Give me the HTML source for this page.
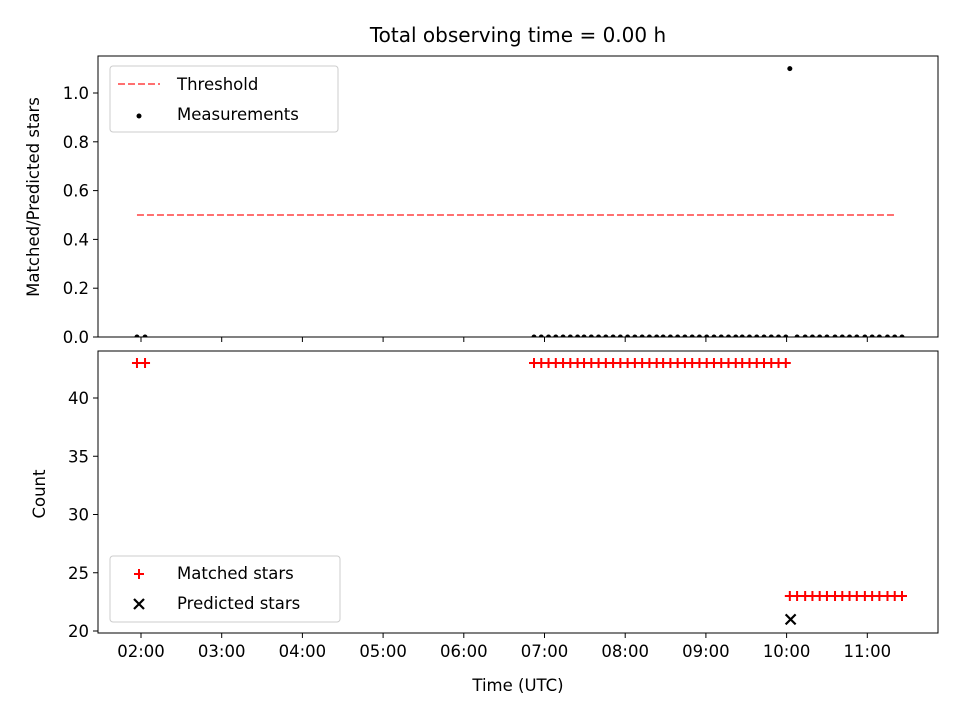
<!DOCTYPE html>
<html><head><meta charset="utf-8"><style>
body{margin:0;background:#fff;}
svg{display:block;font-family:"DejaVu Sans","Liberation Sans",sans-serif;}
</style></head><body>
<svg id="c" width="960" height="720" xmlns="http://www.w3.org/2000/svg"></svg>
<script>
const matchedTimes=[1.95,2.05,6.87,6.96,7.05,7.14,7.23,7.32,7.41,7.49,7.58,7.67,7.76,7.85,7.94,8.03,8.12,8.21,8.30,8.39,8.47,8.56,8.65,8.74,8.83,8.92,9.01,9.10,9.19,9.28,9.37,9.45,9.54,9.63,9.72,9.81,9.90,9.99,10.04,10.13,10.23,10.32,10.41,10.50,10.60,10.69,10.78,10.87,10.97,11.06,11.15,11.25,11.34,11.43];
const matchedCounts=[43,43,43,43,43,43,43,43,43,43,43,43,43,43,43,43,43,43,43,43,43,43,43,43,43,43,43,43,43,43,43,43,43,43,43,43,43,43,23,23,23,23,23,23,23,23,23,23,23,23,23,23,23,23];
const ratioValues=[0,0,0,0,0,0,0,0,0,0,0,0,0,0,0,0,0,0,0,0,0,0,0,0,0,0,0,0,0,0,0,0,0,0,0,0,0,0,1.1,0,0,0,0,0,0,0,0,0,0,0,0,0,0,0];
const predictedTimes=[10.05];
const predictedCounts=[21];
const threshold=0.5;
const thresholdRange=[1.95,11.34];
const xTicks=[2,3,4,5,6,7,8,9,10,11];
const xTickLabels=["02:00","03:00","04:00","05:00","06:00","07:00","08:00","09:00","10:00","11:00"];
const topTicks=[0,0.2,0.4,0.6,0.8,1.0];
const botTicks=[20,25,30,35,40];

const svg=document.getElementById('c');
const NS='http://www.w3.org/2000/svg';
function mk(t,a,txt){const e=document.createElementNS(NS,t);for(const k in a)e.setAttribute(k,a[k]);if(txt!==undefined)e.textContent=txt;svg.appendChild(e);return e;}
const L=98,R=938,FS='16.5px';
const X=h=>141+(h-2)*80.7;
const Yt=v=>337-v*244;
const Yb=v=>631-(v-20)*11.65;

let e=mk('text',{x:518,y:42,'text-anchor':'middle','font-size':'20px'},'Total observing time = 0.00 h');



e=mk('line',{x1:X(thresholdRange[0]),x2:X(thresholdRange[1]),y1:Yt(threshold),y2:Yt(threshold),stroke:'#ff7070','stroke-width':2,'stroke-dasharray':'7,3'});



ratioValues.forEach((v,i)=>{
  const p=mk('circle',{cx:X(matchedTimes[i]),cy:Yt(v),r:2.5,fill:'#000'});
  
  
});
matchedCounts.forEach((v,i)=>{
  const x=X(matchedTimes[i]),y=Yb(v);
  const p=mk('path',{d:`M${x-5},${y}H${x+5}M${x},${y-5}V${y+5}`,stroke:'#f00','stroke-width':2});
  
  
});
predictedCounts.forEach((v,i)=>{
  const x=X(predictedTimes[i]),y=Yb(v);
  const p=mk('path',{d:`M${x-5},${y-5}L${x+5},${y+5}M${x-5},${y+5}L${x+5},${y-5}`,stroke:'#000','stroke-width':2.2});
  
  
});

// white mask below top axis to clip dots
e=mk('rect',{x:L-1,y:337.5,width:R-L+2,height:13,fill:'#fff'});



e=mk('rect',{x:L,y:56,width:R-L,height:281,fill:'none',stroke:'#000','stroke-width':1});


e=mk('rect',{x:L,y:351,width:R-L,height:282,fill:'none',stroke:'#000','stroke-width':1});



xTicks.forEach((t,i)=>{
  const x=X(t);
  let k=mk('line',{x1:x,x2:x,y1:337,y2:342,stroke:'#000'});
  
  
  k=mk('line',{x1:x,x2:x,y1:633,y2:638,stroke:'#000'});
  
  
  k=mk('text',{x:x,y:657,'text-anchor':'middle','font-size':FS},xTickLabels[i]);
  
  
});
topTicks.forEach(t=>{
  const y=Yt(t);
  let k=mk('line',{x1:93,x2:98,y1:y,y2:y,stroke:'#000'});
  
  
  k=mk('text',{x:89,y:y+6,'text-anchor':'end','font-size':FS},t.toFixed(1));
  
  
});
botTicks.forEach(t=>{
  const y=Yb(t);
  let k=mk('line',{x1:93,x2:98,y1:y,y2:y,stroke:'#000'});
  
  
  k=mk('text',{x:89,y:y+6,'text-anchor':'end','font-size':FS},String(t));
  
  
});

e=mk('text',{x:518,y:691,'text-anchor':'middle','font-size':FS},'Time (UTC)');


e=mk('text',{x:39,y:197,'text-anchor':'middle','font-size':FS,transform:'rotate(-90 39 197)'},'Matched/Predicted stars');


e=mk('text',{x:45,y:494,'text-anchor':'middle','font-size':FS,transform:'rotate(-90 45 494)'},'Count');



e=mk('rect',{x:110,y:66,width:228,height:66,rx:3,fill:'#fff',stroke:'#ccc'});


e=mk('line',{x1:118,x2:160,y1:84,y2:84,stroke:'#ff7070','stroke-width':2,'stroke-dasharray':'7,3'});


e=mk('text',{x:177,y:90,'font-size':FS},'Threshold');


e=mk('circle',{cx:139,cy:116,r:2.5,fill:'#000'});


e=mk('text',{x:177,y:120,'font-size':FS},'Measurements');



e=mk('rect',{x:110,y:556,width:230,height:66,rx:3,fill:'#fff',stroke:'#ccc'});


e=mk('path',{d:'M134,574H144M139,569V579',stroke:'#f00','stroke-width':2});


e=mk('text',{x:177,y:579,'font-size':FS},'Matched stars');


e=mk('path',{d:'M134,599L144,609M134,609L144,599',stroke:'#000','stroke-width':2.2});


e=mk('text',{x:177,y:609,'font-size':FS},'Predicted stars');


</script>
</body></html>
